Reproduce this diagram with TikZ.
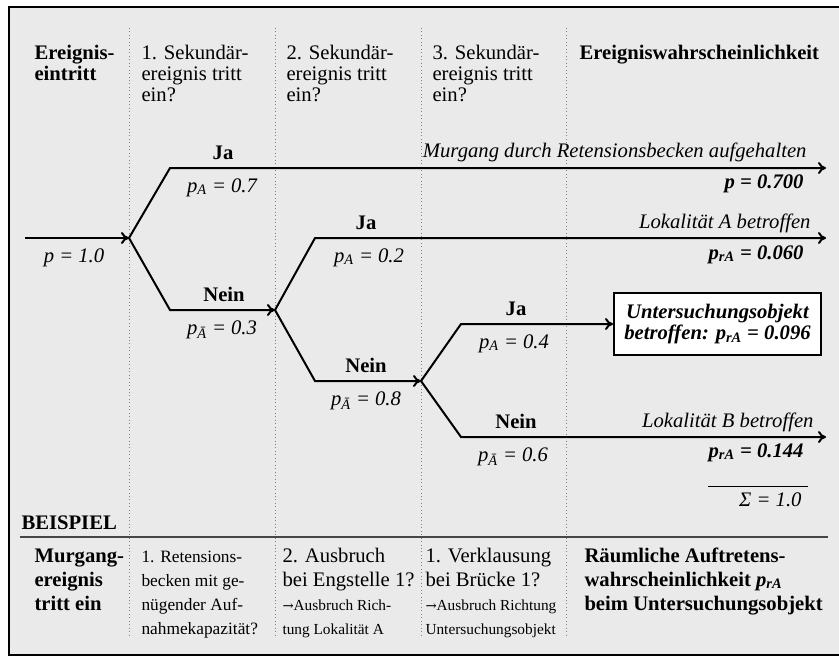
\documentclass[tikz,border=0pt]{standalone}
\usepackage{fontspec}
\setmainfont{Liberation Serif}
\newfontfamily\arrfont{DejaVu Serif}
\usetikzlibrary{arrows.meta}

\definecolor{panelgray}{RGB}{234,234,234}
\definecolor{rulegray}{RGB}{70,70,70}

\newcommand{\normsize}{\fontsize{15.5}{15.75}\selectfont}
\newcommand{\rowsize}{\fontsize{15.5}{18}\selectfont}
\newcommand{\smallrow}{\fontsize{13}{18}\selectfont}
\newcommand{\tinyrow}{\fontsize{11.5}{18}\selectfont}
\newcommand{\toarrow}{{\arrfont\fontsize{10}{18}\selectfont →}}

\tikzset{every picture/.style={line width=0.75pt}}
\tikzset{
  branch/.style={line width=1.5},
  arr/.style={-{To[length=6pt,width=9pt]}},
  colsep/.style={dotted,color=gray,line width=0.6},
  txt/.style={inner sep=0.75pt,font=\normsize},
  hd/.style={txt,anchor=base west,align=left},
  lab/.style={txt,anchor=base},
  res/.style={txt,anchor=base east},
}

\begin{document}
\begin{tikzpicture}[x=0.75pt,y=0.75pt,yscale=-1,xscale=1]
\useasboundingbox (0,0) rectangle (839,657);

%Frame
\begin{scope}
\clip (0,0) rectangle (839,657);
\draw [line width=1.5,fill=panelgray] (9,7) rectangle (870,655);
\end{scope}

%Dotted column lines
\foreach \xc in {129,275,421,566} {
  \draw [colsep] (\xc,28) -- (\xc,637);
}

%Straight Lines (BEISPIEL rule)
\draw [color=rulegray,line width=1.2] (20,537) -- (828,537);

% Header Text Nodes (base = last line)
\node [hd,font=\normsize\bfseries] (hev) at (33,80) {Ereignis-\\eintritt};
\node [hd] (hs1) at (140,101) {1. Sekundär-\\ereignis tritt\\ein?};
\node [hd] (hs2) at (285,101) {2. Sekundär-\\ereignis tritt\\ein?};
\node [hd] (hs3) at (431,101) {3. Sekundär-\\ereignis tritt\\ein?};
\node [hd,font=\normsize\bfseries] (hwk) at (578,59) {Ereigniswahrscheinlichkeit};

%Branch points
\coordinate (start) at (25,238);
\coordinate (n1) at (129,238);
\coordinate (ja1) at (170,168);
\coordinate (end1) at (826,168);
\coordinate (nein1) at (170,310);
\coordinate (n2) at (275,310);
\coordinate (ja2) at (315,238);
\coordinate (end2) at (826,238);
\coordinate (nein2) at (315,381);
\coordinate (n3) at (421,381);
\coordinate (ja3) at (461,324);
\coordinate (nein3) at (461,437);
\coordinate (end4) at (826,437);

% Box Node
\node [draw,line width=1.5,fill=white,inner sep=0pt,minimum width=155.25pt,minimum height=46.5pt,
       align=center,font=\fontsize{15.5}{16}\selectfont\bfseries\itshape] (objekt) at (717.5,324)
  {Untersuchungsobjekt\\betroffen: p\textsubscript{rA} = 0.096};

%Tree branches
\draw [branch,arr] (start) -- (n1);
\draw [branch,arr] (n1) -- (ja1) -- (end1);
\draw [branch,arr] (n1) -- (nein1) -- (n2);
\draw [branch,arr] (n2) -- (ja2) -- (end2);
\draw [branch,arr] (n2) -- (nein2) -- (n3);
\draw [branch,arr] (n3) -- (ja3) -- (objekt.west);
\draw [branch,arr] (n3) -- (nein3) -- (end4);

% Text Node
\node [lab] (p0) at (74,262) {\itshape p = 1.0};
% Text Node
\node [lab,font=\normsize\bfseries] (tja1) at (223,159) {Ja};
\node [lab] (tpa1) at (222,192) {\itshape p\textsubscript{A} = 0.7};
% Text Node
\node [lab,font=\normsize\bfseries] (tnein1) at (224,301) {Nein};
\node [lab] (tpn1) at (222,334) {\itshape p\textsubscript{Ā} = 0.3};
% Text Node
\node [lab,font=\normsize\bfseries] (tja2) at (366,229) {Ja};
\node [lab] (tpa2) at (369,262) {\itshape p\textsubscript{A} = 0.2};
% Text Node
\node [lab,font=\normsize\bfseries] (tnein2) at (366,372) {Nein};
\node [lab] (tpn2) at (366,405) {\itshape p\textsubscript{Ā} = 0.8};
% Text Node
\node [lab,font=\normsize\bfseries] (tja3) at (516,315) {Ja};
\node [lab] (tpa3) at (514,348) {\itshape p\textsubscript{A} = 0.4};
% Text Node
\node [lab,font=\normsize\bfseries] (tnein3) at (516,428) {Nein};
\node [lab] (tpn3) at (513,461) {\itshape p\textsubscript{Ā} = 0.6};

% Result Text Nodes
\node [res] (r1) at (808,157) {\itshape Murgang durch Retensionsbecken aufgehalten};
\node [res] (rp1) at (805,188) {\bfseries\itshape p = 0.700};
\node [res] (r2) at (812,228) {\itshape Lokalität A betroffen};
\node [res] (rp2) at (805,259) {\bfseries\itshape p\textsubscript{rA} = 0.060};
\node [res] (r4) at (815,427) {\itshape Lokalität B betroffen};
\node [res] (rp4) at (805,457) {\bfseries\itshape p\textsubscript{rA} = 0.144};

%Sum line
\draw [line width=0.75] (708,486) -- (808,486);
\node [res] (sum) at (803,506) {\itshape Σ = 1.0};

% Bottom Text Nodes (base = last line)
\node [hd,font=\normsize\bfseries] (bsp) at (20,529) {BEISPIEL};
\node [hd,font=\rowsize\bfseries] (bev) at (33,610) {Murgang-\\ereignis\\tritt ein};
\node [hd,font=\smallrow] (bq1) at (140,634) {1. Retensions-\\becken mit ge-\\nügender Auf-\\nahmekapazität?};
\node [hd,font=\rowsize] (bq2) at (281,586) {2. Ausbruch\\bei Engstelle 1?};
\node [hd,font=\tinyrow] (bn2) at (281,634) {\toarrow Ausbruch Rich-\\tung Lokalität A};
\node [hd,font=\rowsize] (bq3) at (424,586) {1. Verklausung\\bei Brücke 1?};
\node [hd,font=\tinyrow] (bn3) at (424,634) {\toarrow Ausbruch Richtung\\Untersuchungsobjekt};
\node [hd,font=\rowsize\bfseries] (bwk) at (583,610)
  {Räumliche Auftretens-\\wahrscheinlichkeit \itshape p\textsubscript{rA}\\beim Untersuchungsobjekt};

\end{tikzpicture}
\end{document}
